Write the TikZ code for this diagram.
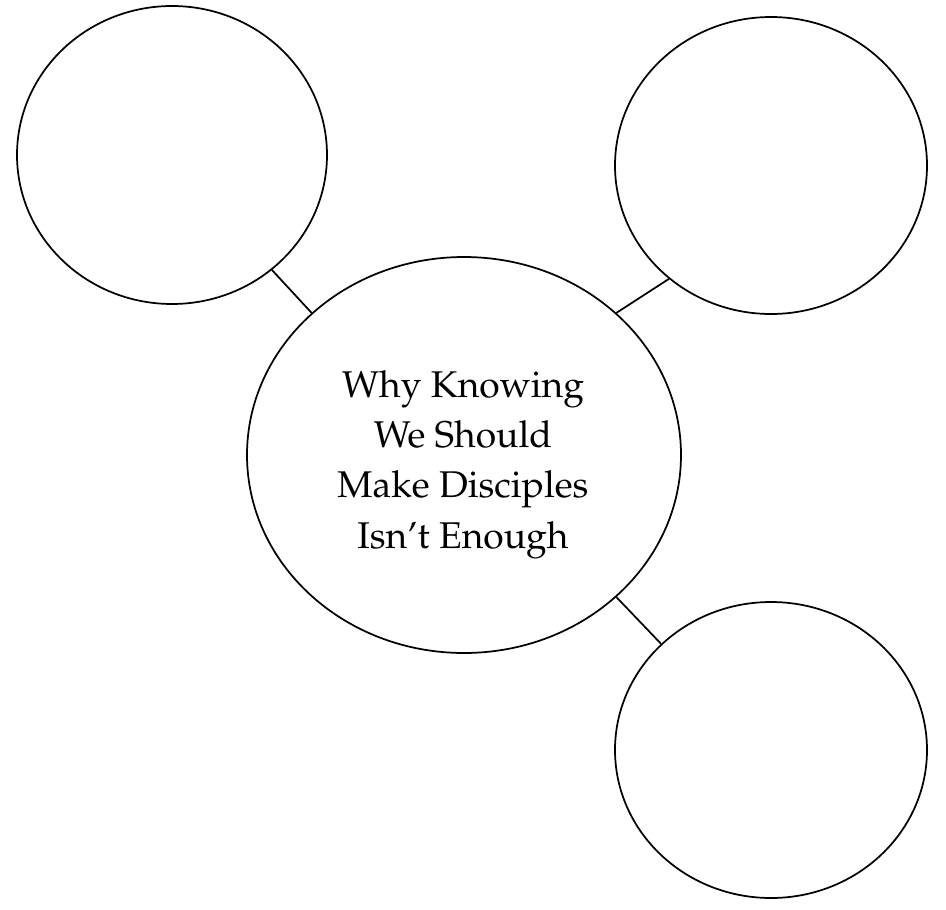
\documentclass[tikz,border=0pt]{standalone}
\usepackage[T1]{fontenc}
\usepackage{mathpazo}
\usetikzlibrary{shapes.geometric}
\begin{document}
\begin{tikzpicture}[x=0.75pt,y=-0.75pt,
  bubble/.style={draw=black,line width=1.3pt,ellipse,inner sep=0pt},
  link/.style={draw=black,line width=1.3pt},
  label/.style={anchor=base,inner sep=0pt,font=\fontsize{27.9}{33}\selectfont}]
\useasboundingbox (0,0) rectangle (946,910);
\node[bubble,minimum width=232.5pt,minimum height=223.5pt] (tl) at (172,155) {};
\node[bubble,minimum width=234pt,minimum height=222.75pt] (tr) at (771,165.5) {};
\node[bubble,minimum width=234pt,minimum height=222pt] (br) at (771,750) {};
\node[bubble,minimum width=325.5pt,minimum height=297pt] (c) at (464,455) {};
\node[label] (l1) at (463,397) {Why Knowing};
\node[label] (l2) at (463,447.3) {We Should};
\node[label] (l3) at (463,497.6) {Make Disciples};
\node[label] (l4) at (463,548) {Isn't Enough};
\draw[link] (tl.-49) -- (c.137);
\draw[link] (tr.-132.7) -- (c.43.4);
\draw[link] (c.-43.6) -- (br.136.3);
\end{tikzpicture}
\end{document}
